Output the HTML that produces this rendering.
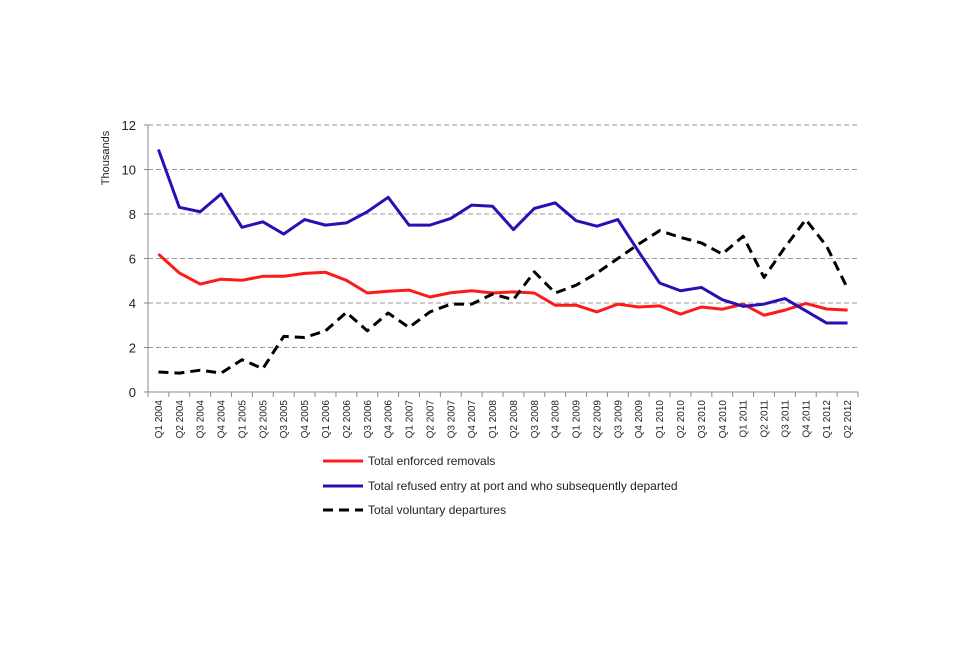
<!DOCTYPE html>
<html><head><meta charset="utf-8"><style>
body{margin:0;background:#fff;}
svg text{font-family:"Liberation Sans",sans-serif;}
</style></head><body>
<svg id="chart" width="960" height="640" xmlns="http://www.w3.org/2000/svg">
<rect width="960" height="640" fill="#fff"/>
<g id="grid"></g><g id="axes"></g><g id="series"></g>
<g>
 <g><line x1="323" y1="461" x2="363" y2="461" stroke="#ff1a1a" stroke-width="3"/><text x="368" y="465" font-size="12" fill="#222">Total enforced removals</text></g>
 <g><line x1="323" y1="486" x2="363" y2="486" stroke="#2a0fb5" stroke-width="3"/><text x="368" y="490" font-size="12" fill="#222">Total refused entry at port and who subsequently departed</text></g>
 <g><line x1="323" y1="510" x2="363" y2="510" stroke="#000" stroke-width="3" stroke-dasharray="10,6"/><text x="368" y="514" font-size="12" fill="#222">Total voluntary departures</text></g>
</g>
<text transform="translate(109,158) rotate(-90)" text-anchor="middle" font-size="11" fill="#222">Thousands</text>
</svg>
<script>
const categories=[];
const years=[2004,2005,2006,2007,2008,2009,2010,2011,2012];
for(const y of years){for(let q=1;q<=4;q++){if(y===2012&&q>2)break;categories.push('Q'+q+' '+y);}}
const refused=[10.9,8.3,8.1,8.9,7.4,7.65,7.1,7.75,7.5,7.6,8.1,8.75,7.5,7.5,7.8,8.4,8.35,7.3,8.25,8.5,7.7,7.45,7.75,6.3,4.9,4.55,4.7,4.15,3.85,3.95,4.2,3.65,3.1,3.1];
const enforced=[6.2,5.35,4.85,5.07,5.02,5.2,5.2,5.33,5.38,5.02,4.45,4.53,4.58,4.27,4.46,4.55,4.45,4.5,4.45,3.9,3.9,3.6,3.95,3.82,3.87,3.5,3.82,3.72,3.95,3.45,3.68,3.98,3.73,3.68];
const voluntary=[0.9,0.85,0.98,0.85,1.45,1.05,2.5,2.45,2.75,3.58,2.75,3.55,2.9,3.6,3.95,3.95,4.4,4.15,5.4,4.45,4.8,5.35,6.0,6.65,7.25,6.95,6.7,6.2,7.0,5.15,6.5,7.75,6.55,4.65];
const yTicks=[0,2,4,6,8,10,12];
const NS='http://www.w3.org/2000/svg';
const X0=148,X1=858,Y0=392,Y1=125;
const bw=(X1-X0)/categories.length;
const xs=i=>X0+bw*(i+0.5);
const ys=v=>Y0-(v/12)*(Y0-Y1);
function mk(t,a,p){const e=document.createElementNS(NS,t);for(const k in a)e.setAttribute(k,a[k]);p.appendChild(e);return e;}
const grid=document.getElementById('grid'),axes=document.getElementById('axes'),ser=document.getElementById('series');
yTicks.forEach(v=>{
 if(v>0){const g=mk('line',{x1:X0,x2:X1,y1:ys(v),y2:ys(v),stroke:'#999','stroke-width':1,'stroke-dasharray':'5,3'},grid);
 
 }
 const t=mk('text',{x:136,y:ys(v)+5,'text-anchor':'end','font-size':13,fill:'#222'},axes);t.textContent=v;
 
 
 mk('line',{x1:X0-4,x2:X0,y1:ys(v),y2:ys(v),stroke:'#888'},axes);
});
const ya=mk('line',{x1:X0,x2:X0,y1:Y1,y2:Y0,stroke:'#888'},axes);


const xa=mk('line',{x1:X0,x2:X1,y1:Y0,y2:Y0,stroke:'#888'},axes);


for(let i=0;i<=categories.length;i++)mk('line',{x1:X0+bw*i,x2:X0+bw*i,y1:Y0,y2:Y0+5,stroke:'#888'},axes);
categories.forEach((c,i)=>{
 const t=mk('text',{transform:`translate(${xs(i)+3.5},400) rotate(-90)`,'text-anchor':'end','font-size':10,fill:'#222'},axes);t.textContent=c;
 
 
});
function line(data,color,dash,name){
 const p=mk('polyline',{points:data.map((v,i)=>xs(i)+','+ys(v)).join(' '),fill:'none',stroke:color,'stroke-width':3,'stroke-linejoin':'round'},ser);
 if(dash)p.setAttribute('stroke-dasharray',dash);
 
 
}
line(enforced,'#ff1a1a',null,'enforced-removals-line');
line(refused,'#2a0fb5',null,'refused-entry-line');
line(voluntary,'#000','10,6','voluntary-departures-line');
</script>
</body></html>
